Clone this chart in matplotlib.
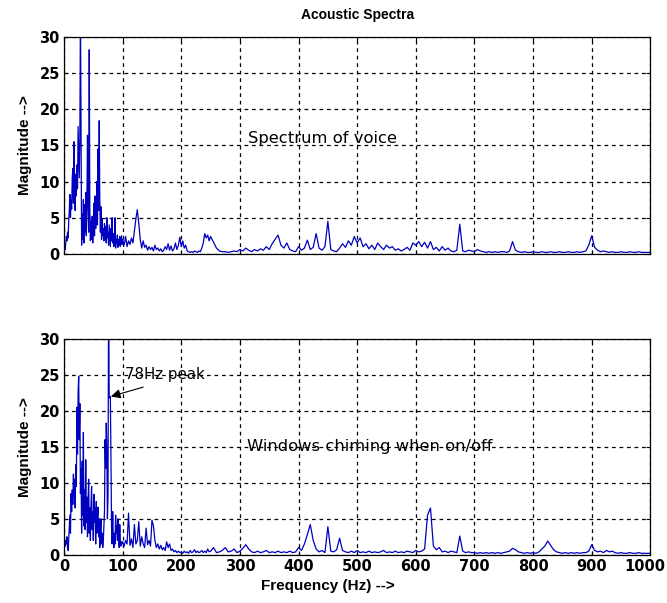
import numpy as np
import matplotlib
matplotlib.use("Agg")
import matplotlib.pyplot as plt
from matplotlib.transforms import ScaledTranslation

plt.rcParams['font.family'] = ['Liberation Sans', 'DejaVu Sans']

#===================================================
# Spectrum of voice (magnitudes)
voice_lo = [0.3, 1.0, 0.6, 1.5, 2.4, 1.8, 3.0, 2.2, 4.5, 6.0,
            8.2, 5.0, 7.5, 6.2, 10.5, 11.8, 7.0, 15.5, 9.5, 6.0,
            11.0, 8.0, 12.3, 9.0, 17.6, 14.0, 10.5, 16.0, 34.0, 17.0,
            1.2, 5.5, 2.0, 7.5, 1.5, 6.8, 3.0, 8.5, 2.5, 7.0,
            16.4, 6.5, 3.0, 28.2, 6.0, 1.8, 4.5, 2.0, 5.2, 1.5,
            4.0, 7.0, 2.5, 8.0, 3.5, 5.0, 10.0, 4.0, 14.5, 6.0,
            18.4, 7.5, 3.0, 6.5, 2.0, 4.8, 2.5, 3.5, 1.8, 4.2,
            2.0, 3.8, 1.5, 5.0, 2.2, 3.0, 1.2, 4.0, 2.5, 1.0,
            3.5, 1.8, 5.0, 1.5, 2.8, 1.0, 2.2, 5.0, 0.8, 2.0,
            1.5, 2.6, 0.9, 2.0, 1.2, 2.4, 1.0, 1.8, 2.5, 1.3]
voice_mid = [2.0, 1.2, 2.4, 1.0, 1.8, 1.3, 2.2, 1.5, 3.2, 4.8,
             6.1, 4.2, 2.0, 0.8, 1.8, 0.9, 1.2, 0.5, 1.0, 0.6,
             0.9, 0.4, 1.2, 0.6, 0.8, 0.4, 0.7, 0.3, 0.5, 1.0,
             0.6, 1.4, 0.5, 1.1, 0.4, 0.7, 1.5, 0.6, 1.2, 2.3,
             1.0, 1.8, 0.8, 1.2, 0.4, 0.3, 0.2, 0.3, 0.2, 0.4,
             0.3, 0.2, 0.4, 0.3, 0.8, 1.5, 2.8, 2.2, 2.6, 1.8]
voice_hi = [2.4, 1.6, 0.8, 0.4, 0.3, 0.3, 0.2, 0.3, 0.4, 0.3,
            0.6, 0.4, 0.8, 0.5, 0.3, 0.6, 0.4, 0.7, 0.5, 1.0,
            0.6, 1.4, 2.0, 2.6, 1.2, 0.8, 1.5, 0.6, 0.4, 0.3,
            1.0, 0.5, 0.8, 1.9, 0.6, 0.9, 2.8, 0.8, 0.5, 1.0,
            4.5, 0.6, 0.4, 0.3, 0.8, 1.4, 0.9, 1.8, 1.2, 2.4,
            1.5, 2.2, 1.0, 1.4, 0.7, 1.2, 0.6, 1.5, 1.0, 0.6,
            1.2, 0.8, 1.0, 0.5, 0.7, 0.4, 0.6, 0.9, 0.5, 1.5,
            1.2, 1.7, 1.0, 1.6, 0.8, 1.7, 0.6, 0.9, 0.4, 1.0,
            0.5, 0.8, 0.4, 0.3, 0.5, 4.1, 0.4, 0.3, 0.5, 0.4,
            0.3, 0.6, 0.4, 0.3, 0.2, 0.3, 0.2, 0.3, 0.2, 0.3,
            0.3, 0.2, 0.4, 1.7, 0.5, 0.3, 0.2, 0.3, 0.2, 0.2,
            0.3, 0.2, 0.2, 0.3, 0.2, 0.2, 0.3, 0.2, 0.2, 0.3,
            0.2, 0.2, 0.3, 0.2, 0.2, 0.3, 0.2, 0.3, 0.4, 1.2,
            2.5, 0.9, 0.5, 0.3, 0.4, 0.3, 0.2, 0.3, 0.2, 0.2,
            0.3, 0.2, 0.2, 0.3, 0.2, 0.2, 0.3, 0.2, 0.2, 0.2, 0.2]

#===================================================
# Windows chiming when on/off
win_lo = [1.0, 1.8, 1.2, 2.0, 1.5, 2.5, 1.0, 0.6, 2.2, 4.0,
          5.5, 3.0, 8.5, 6.0, 9.0, 7.0, 11.2, 8.0, 10.5, 6.5,
          12.5, 9.5, 20.5, 14.0, 22.5, 24.8, 16.0, 21.0, 8.5, 12.0,
          3.0, 13.0, 5.5, 17.0, 4.0, 9.0, 3.5, 13.2, 4.5, 8.0,
          2.5, 7.5, 10.5, 3.0, 6.5, 2.0, 7.0, 9.5, 3.5, 6.0,
          2.0, 8.4, 4.5, 6.5, 1.5, 7.4, 3.0, 5.5, 6.6, 2.5,
          5.0, 1.0, 3.5, 5.0, 1.5, 3.0, 1.0, 2.0, 4.0, 6.0,
          16.0, 12.0, 18.3, 15.0, 5.0, 8.0, 36.0, 22.0, 21.8, 22.0,
          14.0, 4.0, 1.5, 6.0, 2.5, 1.0, 3.0, 1.5, 5.5, 3.0,
          4.0, 2.0, 5.0, 3.5, 1.0, 4.2, 2.0, 1.2, 1.8, 1.5]
win_mid = [1.8, 1.2, 2.0, 1.5, 5.8, 1.3, 2.2, 1.0, 4.2, 1.5,
           2.0, 4.6, 1.2, 2.5, 1.5, 1.0, 3.7, 1.4, 2.0, 1.2,
           4.8, 4.0, 2.0, 1.0, 1.5, 0.8, 1.3, 0.7, 1.0, 0.6,
           1.8, 1.0, 1.5, 0.6, 0.8, 0.4, 0.6, 0.3, 0.5, 0.3,
           0.4, 0.2, 0.5, 0.3, 0.4, 0.2, 0.6, 0.3, 0.4, 0.7,
           0.3, 0.5, 0.3, 0.4, 0.6, 0.3, 0.5, 0.3, 0.8, 0.4]
win_hi = [0.5, 1.0, 0.3, 0.4, 0.6, 1.0, 0.4, 0.5, 0.8, 0.3,
          0.5, 0.9, 1.4, 0.8, 0.4, 0.3, 0.5, 0.3, 0.4, 0.6,
          0.3, 0.4, 0.3, 0.5, 0.3, 0.4, 0.3, 0.5, 0.3, 0.4,
          1.0, 0.6, 1.5, 2.8, 4.2, 2.0, 0.8, 0.4, 0.6, 0.3,
          3.9, 0.5, 0.4, 0.7, 2.3, 0.6, 0.4, 0.3, 0.5, 0.3,
          0.6, 0.3, 0.4, 0.3, 0.5, 0.3, 0.4, 0.3, 0.4, 0.6,
          0.3, 0.4, 0.3, 0.5, 0.3, 0.4, 0.3, 0.5, 0.4, 0.3,
          0.6, 0.4, 0.5, 0.8, 5.5, 6.5, 1.2, 0.7, 1.0, 0.4,
          0.5, 0.3, 0.5, 0.4, 0.3, 2.6, 0.5, 0.3, 0.4, 0.3,
          0.3, 0.2, 0.3, 0.2, 0.3, 0.2, 0.3, 0.2, 0.3, 0.2,
          0.3, 0.4, 0.5, 0.9, 0.7, 0.4, 0.3, 0.2, 0.3, 0.2,
          0.3, 0.2, 0.4, 0.8, 1.2, 1.9, 1.3, 0.7, 0.4, 0.3,
          0.2, 0.3, 0.2, 0.3, 0.2, 0.3, 0.2, 0.3, 0.3, 0.5,
          1.4, 0.6, 0.4, 0.5, 0.3, 0.6, 0.4, 0.5, 0.3, 0.2,
          0.3, 0.2, 0.2, 0.3, 0.2, 0.2, 0.3, 0.2, 0.2, 0.2, 0.2]

x_ticks = [0, 100, 200, 300, 400, 500, 600, 700, 800, 900, 1000]
y_ticks = [0, 5, 10, 15, 20, 25, 30]


def freq_axis(lo, mid, hi):
    # bins: 1 Hz up to 100, 2.5 Hz up to 250, 5 Hz up to 1000
    f = np.concatenate([np.arange(len(lo)) * 1.0,
                        100 + 2.5 * np.arange(len(mid)),
                        250 + 5.0 * np.arange(len(hi))])
    return f, np.array(lo + mid + hi)


f1, m1 = freq_axis(voice_lo, voice_mid, voice_hi)
f2, m2 = freq_axis(win_lo, win_mid, win_hi)

fig = plt.figure(figsize=(6.67, 6.03), dpi=100)
ax1 = fig.add_axes([0.096, 0.579, 0.879, 0.360])
ax2 = fig.add_axes([0.096, 0.080, 0.879, 0.358])

tick_font = {'size': 10.5, 'weight': 'bold', 'family': 'DejaVu Sans'}
note_font = {'family': 'DejaVu Sans', 'size': 11.8}

for ax, f, m in [(ax1, f1, m1), (ax2, f2, m2)]:
    ax.plot(f, m, color='#0000c0', lw=0.9)
    ax.set_xlim(0, 1000)
    ax.set_ylim(0, 30)
    ax.set_xticks(x_ticks)
    ax.set_yticks(y_ticks)
    ax.grid(True, color='black', linestyle=(0, (3, 3)), lw=0.9)
    ax.tick_params(direction='in', top=True, right=True, length=3, pad=3)
    ax.set_yticklabels([str(v) for v in y_ticks], **tick_font)
    ax.set_ylabel('Magnitude -->', fontsize=11, fontweight='bold')
    ax.yaxis.set_label_coords(-0.055, 0.5)
    for s in ax.spines.values():
        s.set_linewidth(0.9)

ax1.set_xticklabels([])
ax2.set_xticklabels([str(v) for v in x_ticks], **tick_font)
# keep "1000" inside the figure edge
last = ax2.get_xticklabels()[-1]
last.set_transform(last.get_transform() +
                   ScaledTranslation(-4 / 72, 0, fig.dpi_scale_trans))
ax2.set_xlabel('Frequency (Hz) -->', fontsize=11, fontweight='bold')
ax2.xaxis.set_label_coords(0.45, -0.11)
ax1.set_title('Acoustic Spectra', fontsize=10, fontweight='bold', pad=12.5)

ax1.text(314, 16, 'Spectrum of voice', va='center', ha='left', **note_font)
ax2.text(312, 15.1, 'Windows chiming when on/off', va='center', ha='left',
         **note_font)
ax2.text(104, 25, '78Hz peak', va='center', ha='left',
         family='DejaVu Sans', size=10.8)
ax2.annotate('', xy=(80, 22), xytext=(135, 23.3),
             arrowprops=dict(arrowstyle='-|>', color='black', lw=0.8,
                             mutation_scale=14, shrinkA=0, shrinkB=0))

plt.savefig('out.png', dpi=100)
